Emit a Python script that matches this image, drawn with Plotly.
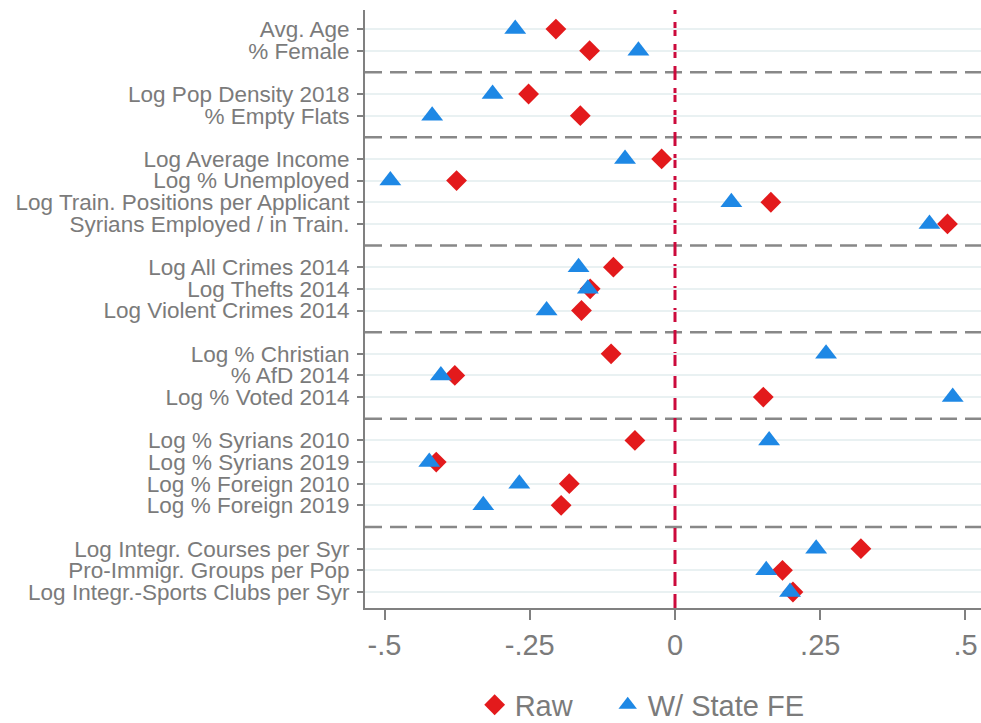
import plotly.graph_objects as go

groups = [
    ["Avg. Age", "% Female"],
    ["Log Pop Density 2018", "% Empty Flats"],
    ["Log Average Income", "Log % Unemployed", "Log Train. Positions per Applicant",
     "Syrians Employed / in Train."],
    ["Log All Crimes 2014", "Log Thefts 2014", "Log Violent Crimes 2014"],
    ["Log % Christian", "% AfD 2014", "Log % Voted 2014"],
    ["Log % Syrians 2010", "Log % Syrians 2019", "Log % Foreign 2010", "Log % Foreign 2019"],
    ["Log Integr. Courses per Syr", "Pro-Immigr. Groups per Pop", "Log Integr.-Sports Clubs per Syr"],
]

raw_vals = [-0.205, -0.147, -0.252, -0.163, -0.023, -0.376, 0.165, 0.469,
            -0.106, -0.146, -0.161, -0.110, -0.379, 0.152, -0.069, -0.411,
            -0.182, -0.196, 0.320, 0.185, 0.203]
fe_vals = [-0.275, -0.063, -0.314, -0.418, -0.086, -0.490, 0.097, 0.438,
           -0.166, -0.150, -0.221, 0.260, -0.403, 0.478, 0.162, -0.423,
           -0.268, -0.330, 0.243, 0.157, 0.198]

x_ticks = [-0.5, -0.25, 0, 0.25, 0.5]
x_tick_labels = ["-.5", "-.25", "0", ".25", ".5"]

# positions: one blank row between groups (separator lines sit there)
labels, ypos, seps = [], [], []
pos = 0
for gi, g in enumerate(groups):
    if gi > 0:
        seps.append(pos)
        pos += 1
    for lab in g:
        labels.append(lab)
        ypos.append(pos)
        pos += 1

GRAY = "#7b7b7b"
FONT = "Liberation Sans, Arial, sans-serif"

fig = go.Figure()
fig.add_trace(go.Scatter(
    x=raw_vals, y=ypos, mode="markers", name="Raw", legend="legend",
    marker=dict(symbol="diamond", size=16, color="#e31a1c", line=dict(width=0)),
))
fig.add_trace(go.Scatter(
    x=fe_vals, y=ypos, mode="markers", name="W/ State FE", legend="legend2",
    marker=dict(symbol="triangle-up", size=19, color="#1e88e5", line=dict(width=0)),
))

for s in seps:
    fig.add_shape(type="line", xref="paper", x0=0, x1=1, yref="y", y0=s, y1=s,
                  line=dict(color="#888888", width=2.5, dash="17px,8px"), layer="below")

fig.add_shape(type="line", xref="x", x0=0, x1=0, yref="paper", y0=0, y1=1,
              line=dict(color="#cc0a3c", width=3, dash="14px,8px"), layer="below")

leg_common = dict(orientation="h", yanchor="middle", xanchor="left",
                  font=dict(size=29, color=GRAY, family=FONT), itemsizing="trace",
                  bgcolor="rgba(0,0,0,0)")

fig.update_layout(
    width=981, height=723,
    margin=dict(l=365, r=0, t=10, b=115, autoexpand=False),
    plot_bgcolor="white", paper_bgcolor="white",
    font=dict(family=FONT, color=GRAY),
    showlegend=True,
    legend=dict(x=0.178, y=-0.162, **leg_common),
    legend2=dict(x=0.394, y=-0.162, **leg_common),
    xaxis=dict(
        range=[-0.5336, 0.5267], tickvals=x_ticks, ticktext=x_tick_labels,
        showgrid=False, zeroline=False, showline=True, linecolor="#808080", linewidth=2,
        ticks="outside", ticklen=10, tickwidth=2, tickcolor="#808080",
        tickfont=dict(size=29, color=GRAY, family=FONT), automargin=False,
    ),
    yaxis=dict(
        range=[26.74, -0.88], tickvals=ypos, ticktext=labels,
        showgrid=True, gridcolor="#e9f1f2", gridwidth=2,
        zeroline=False, showline=True, linecolor="#808080", linewidth=2,
        ticks="outside", ticklen=6, tickwidth=2, tickcolor="#808080",
        tickfont=dict(size=22.5, color=GRAY, family=FONT), automargin=False,
        ticklabelstandoff=3,
    ),
)

fig.write_html(
    "out.html",
    config={"displayModeBar": False},
    post_script="document.body.style.margin='0';document.body.style.overflow='hidden';",
)
